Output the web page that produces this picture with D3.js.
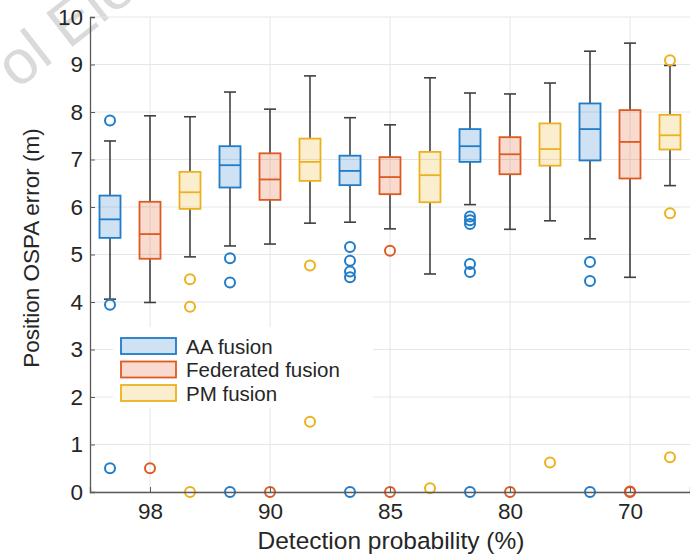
<!DOCTYPE html>
<html><head><meta charset="utf-8">
<script src="https://cdn.jsdelivr.net/npm/d3@7"></script>
<style>
body{margin:0;background:#fff;}
svg{display:block;font-family:"Liberation Sans",Arial,Helvetica,sans-serif;}
</style></head>
<body><svg id="chart" width="690" height="555"></svg>
<script>
// ---- data ----
const categories = ["98", "90", "85", "80", "70"];
const seriesNames = ["AA fusion", "Federated fusion", "PM fusion"];
const yTicks = [0,1,2,3,4,5,6,7,8,9,10];
// per series, per category: [lowerWhisker, q1, median, q3, upperWhisker]
const aaStats = [
  [4.06, 5.35, 5.74, 6.24, 7.39],
  [5.18, 6.41, 6.88, 7.28, 8.42],
  [5.68, 6.46, 6.76, 7.08, 7.88],
  [6.05, 6.95, 7.28, 7.64, 8.40],
  [5.33, 6.98, 7.64, 8.18, 9.28]
];
const fedStats = [
  [3.99, 4.91, 5.43, 6.11, 7.92],
  [5.22, 6.15, 6.58, 7.13, 8.06],
  [5.54, 6.27, 6.63, 7.05, 7.73],
  [5.53, 6.69, 7.11, 7.47, 8.38],
  [4.52, 6.60, 7.37, 8.04, 9.45]
];
const pmStats = [
  [4.95, 5.96, 6.31, 6.74, 7.90],
  [5.66, 6.55, 6.95, 7.44, 8.76],
  [4.59, 6.10, 6.67, 7.16, 8.72],
  [5.71, 6.87, 7.22, 7.76, 8.61],
  [6.45, 7.21, 7.51, 7.94, 8.98]
];
const aaOutliers = [
  [7.82, 3.94, 0.50],
  [4.92, 4.41, 0],
  [5.16, 4.87, 4.64, 4.52, 0],
  [5.80, 5.72, 5.64, 4.80, 4.63, 0],
  [4.84, 4.44, 0]
];
const fedOutliers = [
  [0.50],
  [0],
  [5.08, 0],
  [0],
  [0, 0.01]
];
const pmOutliers = [
  [4.48, 3.90, 0],
  [4.77, 1.48],
  [0.08],
  [0.62],
  [9.09, 5.87, 0.73]
];
const colors = ["#1F7CC9", "#DE5A22", "#EDB120"];

// ---- layout ----
const svg = d3.select("#chart");
const x = d3.scaleLinear().domain([0.5, 15.5]).range([90, 690]);
const y = d3.scaleLinear().domain([0, 10]).range([492, 17]);
const inkColor = "#262626";

// watermark
svg.append("text")
  .attr("transform", "translate(17,90) rotate(-38)")
  .attr("font-size", 62)
  .attr("fill", "#dadada")
  .text("ol Ele");

// grid
const g = svg.append("g");
g.selectAll("line.hg").data(yTicks).join("line")
  .attr("x1", x(0.5)).attr("x2", x(15.5))
  .attr("y1", d => y(d)).attr("y2", d => y(d))
  .attr("stroke", "#e6e6e6").attr("stroke-width", 1);
const catPos = categories.map((c, i) => 2 + 3 * i);
g.selectAll("line.vg").data(catPos).join("line")
  .attr("x1", d => x(d)).attr("x2", d => x(d))
  .attr("y1", y(0)).attr("y2", y(10))
  .attr("stroke", "#e6e6e6").attr("stroke-width", 1);

// legend background (hides grid)
svg.append("rect").attr("x", 113).attr("y", 327).attr("width", 260).attr("height", 81).attr("fill", "#fff");

// boxes
const allStats = [aaStats, fedStats, pmStats];
const allOut = [aaOutliers, fedOutliers, pmOutliers];
const boxW = 21, capW = 12;
allStats.forEach((stats, s) => {
  const col = colors[s];
  stats.forEach((st, c) => {
    const pos = 1 + 3 * c + s;
    const cx = x(pos);
    const [lo, q1, med, q3, hi] = st;
    const bg = svg.append("g");
    bg.append("line").attr("x1", cx).attr("x2", cx).attr("y1", y(q3)).attr("y2", y(hi))
      .attr("stroke", "#404040").attr("stroke-width", 1.6);
    bg.append("line").attr("x1", cx).attr("x2", cx).attr("y1", y(q1)).attr("y2", y(lo))
      .attr("stroke", "#404040").attr("stroke-width", 1.6);
    bg.append("line").attr("x1", cx - capW / 2).attr("x2", cx + capW / 2).attr("y1", y(hi)).attr("y2", y(hi))
      .attr("stroke", "#404040").attr("stroke-width", 1.6);
    bg.append("line").attr("x1", cx - capW / 2).attr("x2", cx + capW / 2).attr("y1", y(lo)).attr("y2", y(lo))
      .attr("stroke", "#404040").attr("stroke-width", 1.6);
    bg.append("rect").attr("x", cx - boxW / 2).attr("width", boxW)
      .attr("y", y(q3)).attr("height", y(q1) - y(q3))
      .attr("fill", col).attr("fill-opacity", 0.22)
      .attr("stroke", col).attr("stroke-width", 1.8);
    bg.append("line").attr("x1", cx - boxW / 2).attr("x2", cx + boxW / 2)
      .attr("y1", y(med)).attr("y2", y(med))
      .attr("stroke", col).attr("stroke-width", 1.8);
    bg.selectAll("circle").data(allOut[s][c]).join("circle")
      .attr("cx", cx).attr("cy", d => y(d)).attr("r", 5)
      .attr("fill", "none").attr("stroke", col).attr("stroke-width", 2);
  });
});

// axes
const yAxis = d3.axisLeft(y).tickValues(yTicks).tickSize(-5).tickPadding(7).tickFormat(d3.format("d"));
const ya = svg.append("g").attr("transform", `translate(${x(0.5)},0)`).call(yAxis);
const xAxis = d3.axisBottom(x).tickValues(catPos).tickSize(-5).tickPadding(11)
  .tickFormat((d, i) => categories[i]);
const xa = svg.append("g").attr("transform", `translate(0,${y(0)})`).call(xAxis);
[ya, xa].forEach(a => {
  a.select(".domain").attr("stroke", "#5a5a5a").attr("stroke-width", 1.3);
  a.selectAll(".tick line").attr("stroke", "#5a5a5a").attr("stroke-width", 1);
  a.selectAll(".tick text").attr("fill", inkColor).attr("font-size", 22.5)
    .attr("font-family", "'Liberation Sans',Arial,sans-serif");
});

// axis titles
svg.append("text").attr("x", 391).attr("y", 549).attr("text-anchor", "middle")
  .attr("font-size", 24.5).attr("fill", inkColor).text("Detection probability (%)");
svg.append("text").attr("transform", `translate(39,248) rotate(-90)`)
  .attr("text-anchor", "middle").attr("font-size", 22.5).attr("fill", inkColor)
  .text("Position OSPA error (m)");

// legend
const lg = svg.append("g");
seriesNames.forEach((name, i) => {
  const ly = 338 + 23.5 * i;
  lg.append("rect").attr("x", 121).attr("y", ly).attr("width", 55).attr("height", 16)
    .attr("fill", colors[i]).attr("fill-opacity", 0.22)
    .attr("stroke", colors[i]).attr("stroke-width", 1.8);
  lg.append("text").attr("x", 186).attr("y", ly + 15.5).attr("font-size", 20.5)
    .attr("fill", inkColor).text(name);
});
</script></body></html>
